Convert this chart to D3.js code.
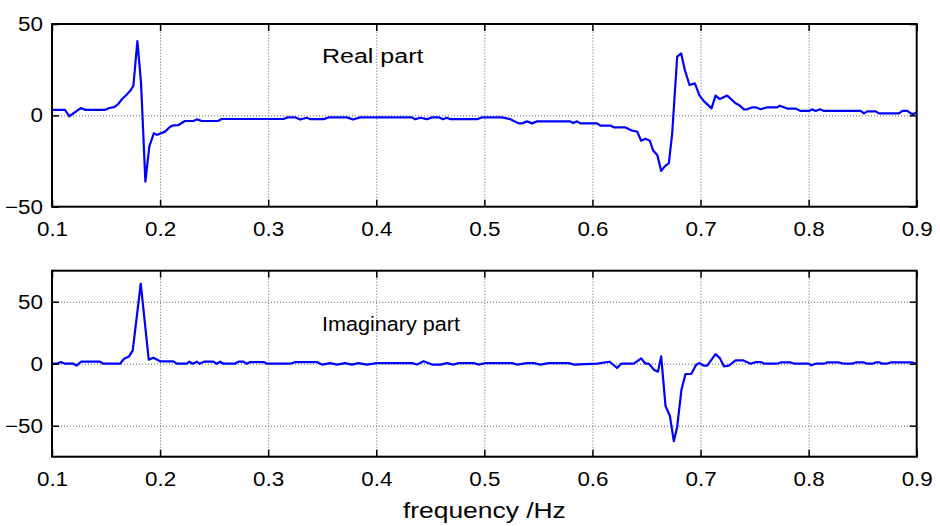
<!DOCTYPE html>
<html>
<head>
<meta charset="utf-8">
<script src="https://cdn.jsdelivr.net/npm/d3@7"></script>
<style>
  body { margin: 0; background: #fff; }
  text { font-family: "Liberation Sans", Arial, sans-serif; }
</style>
</head>
<body>
<div id="chart"></div>
<script>
// frequency (Hz) and value pairs
const realFreq = [0.100, 0.112, 0.116, 0.1266, 0.131, 0.149, 0.153, 0.1574, 0.161, 0.1646,
    0.169, 0.1722, 0.1753, 0.179, 0.1824, 0.1864, 0.190, 0.1942, 0.197, 0.2046,
    0.2093, 0.2123, 0.217, 0.223, 0.2309, 0.234, 0.2386, 0.2537, 0.257, 0.3142,
    0.3179, 0.325, 0.3296, 0.3358, 0.3389, 0.3512, 0.356, 0.3729, 0.3784, 0.3852,
    0.433, 0.436, 0.4407, 0.4469, 0.4516, 0.4577, 0.4617, 0.4654, 0.4685, 0.4932,
    0.4978, 0.5164, 0.524, 0.5318, 0.5349, 0.5395, 0.5442, 0.5488, 0.5796, 0.5821,
    0.5858, 0.5889, 0.6043, 0.6074, 0.6167, 0.6198, 0.6306, 0.6368, 0.6414, 0.6451,
    0.6491, 0.6531, 0.6562, 0.660, 0.6636, 0.6667, 0.6707, 0.6738, 0.6784, 0.6821,
    0.6855, 0.6898, 0.6948, 0.6991, 0.7031, 0.7102, 0.7139, 0.7179, 0.7247, 0.7324,
    0.7355, 0.7401, 0.7432, 0.7479, 0.751, 0.7556, 0.7617, 0.771, 0.7734, 0.7802,
    0.788, 0.7926, 0.8003, 0.8034, 0.8065, 0.8105, 0.8142, 0.8481, 0.8512, 0.8543,
    0.862, 0.8651, 0.8836, 0.8868, 0.8914, 0.8944, 0.897, 0.900];
const realVals = [3, 3, -0.5, 4, 3, 3, 4, 4.5, 6, 8.8,
    11.3, 13.3, 16.2, 40.7, 17.5, -36.3, -17.1, -9.8, -10.7, -8.9,
    -6.2, -5.5, -5.3, -3.1, -3.1, -2.2, -3.1, -3.1, -2, -2,
    -1.1, -1.1, -2.3, -1.3, -2.1, -2.1, -1.1, -1.1, -2.3, -1.1,
    -1.1, -2.1, -1.3, -2.1, -1.1, -1.1, -2.1, -1.3, -2.1, -2.1,
    -1.1, -1.1, -2.1, -4.4, -4.4, -3.3, -4.4, -3.3, -3.3, -4.2,
    -3.3, -4.4, -4.4, -5.6, -5.6, -6.6, -6.6, -8.4, -8.9, -13.9,
    -12.8, -13.9, -19.3, -21.7, -30.4, -28.1, -26.2, -9.8, 32.1, 33.9,
    24.8, 16.6, 17.5, 10.8, 7.8, 3.8, 10.8, 8.9, 10.8, 6.6,
    5.7, 3.3, 3.3, 4.4, 4.4, 3.3, 4.4, 4.4, 5.3, 3.7,
    3.7, 2.4, 2.4, 3.3, 2.4, 3.3, 2.4, 2.4, 1.1, 2.2,
    2.2, 1.1, 1.1, 2.4, 2.4, 1.1, 0.7, 1.8];

const imagFreq = [0.100, 0.104, 0.1083, 0.112, 0.1198, 0.1228, 0.1269, 0.1444, 0.1475, 0.163,
    0.1667, 0.1713, 0.1747, 0.1821, 0.1895, 0.1938, 0.200, 0.2123, 0.2154, 0.2247,
    0.2271, 0.2302, 0.234, 0.2364, 0.2407, 0.2494, 0.2525, 0.2556, 0.2586, 0.2694,
    0.2725, 0.2772, 0.2802, 0.2833, 0.296, 0.2988, 0.3204, 0.325, 0.345, 0.3497,
    0.3574, 0.3636, 0.3713, 0.3775, 0.3836, 0.3914, 0.4006, 0.433, 0.4377, 0.4438,
    0.4516, 0.4593, 0.4654, 0.4716, 0.4762, 0.4901, 0.4947, 0.5009, 0.5256, 0.5303,
    0.5395, 0.5457, 0.5519, 0.5596, 0.5781, 0.5827, 0.6043, 0.616, 0.6228, 0.6265,
    0.6383, 0.6451, 0.6491, 0.6522, 0.6568, 0.6606, 0.6636, 0.6676, 0.6716, 0.6753,
    0.6784, 0.6824, 0.6861, 0.6914, 0.696, 0.6991, 0.7031, 0.7062, 0.7139, 0.7179,
    0.7216, 0.7262, 0.7324, 0.7392, 0.7463, 0.751, 0.7556, 0.7593, 0.771, 0.7741,
    0.7833, 0.787, 0.8003, 0.8025, 0.8065, 0.8142, 0.8173, 0.8281, 0.8327, 0.8404,
    0.8435, 0.8512, 0.8543, 0.859, 0.862, 0.8657, 0.8682, 0.8722, 0.8759, 0.896,
    0.900];
const imagVals = [0, 0, 1.3, 0, 0, -1.6, 1.6, 1.6, 0, 0,
    4, 5.9, 10.7, 64.5, 3.2, 4.8, 1.9, 1.9, 0, 0,
    1.6, 0, 1.6, 0, 1.6, 1.6, 0, 1.6, 0, 0,
    1.6, 1.6, 0, 1.3, 1.3, 0, 0, 1.3, 1.3, -0.7,
    0.5, -0.7, 0.5, -0.7, 0.5, -0.7, 0.5, 0.5, -0.7, 2,
    -0.7, -0.7, 0.5, -0.7, 0.5, 0.5, -0.7, 0.5, 0.5, -0.7,
    0.5, 0.5, -0.7, 0.5, 0.5, -0.7, 0, 1.6, -3.5, 0,
    0, 4.3, 0, 0, -4.8, -6.4, 5.9, -34, -42, -62.5,
    -51, -20.8, -8.3, -8.3, -0.8, 0.5, -1.6, -1.6, 7.7, 4.5,
    -2.1, -1.6, 2.7, 2.7, 0, 1.3, 1.3, 0, 0, 1,
    1, 0, 0, -1.3, 0, 0, 1, 1, 0, 0,
    1, 1, 0, 0, 1, 1, 0, 0, 1, 1,
    0];

const xTicks = [0.1, 0.2, 0.3, 0.4, 0.5, 0.6, 0.7, 0.8, 0.9];
const realYTicks = [-50, 0, 50];
const imagYTicks = [-50, 0, 50];
const realYDomain = [-50, 50];
const imagYDomain = [-75, 75];

const totalWidth = 940, totalHeight = 526;
const left = 52, plotWidth = 864.7;

const svg = d3.select("#chart")
              .append("svg")
              .attr("width", totalWidth)
              .attr("height", totalHeight);

const xScale = d3.scaleLinear()
                 .domain([0.1, 0.9])
                 .range([0, plotWidth]);

// the original text is a little wider than Liberation Sans, stretch it
function stretch(sel, k) {
    sel.each(function() {
        const w = this.getComputedTextLength();
        d3.select(this)
          .attr("textLength", w * k)
          .attr("lengthAdjust", "spacingAndGlyphs");
    });
}

function drawPanel(top, height, freq, vals, yDomain, yTicks, label, labelY, labelStretch) {
    const g = svg.append("g")
                 .attr("transform", `translate(${left},${top})`);

    const yScale = d3.scaleLinear()
                     .domain(yDomain)
                     .range([height, 0]);

    // dotted grid
    const gridStyle = sel => {
        sel.select(".domain").remove();
        sel.selectAll("line")
           .attr("stroke", "#555")
           .attr("stroke-width", 0.9)
           .attr("stroke-dasharray", "1,2");
    };
    g.append("g")
     .attr("transform", `translate(0,${height})`)
     .call(d3.axisBottom(xScale).tickValues(xTicks.slice(1, -1)).tickSize(-height).tickFormat(""))
     .call(gridStyle);
    g.append("g")
     .call(d3.axisLeft(yScale).tickValues(yTicks.filter(v => v > yDomain[0] && v < yDomain[1]))
              .tickSize(-plotWidth).tickFormat(""))
     .call(gridStyle);

    // data line
    const line = d3.line()
                   .x(i => xScale(freq[i]))
                   .y(i => yScale(vals[i]));

    g.append("path")
     .datum(d3.range(freq.length))
     .attr("fill", "none")
     .attr("stroke", "#0000ff")
     .attr("stroke-width", 2.2)
     .attr("stroke-linejoin", "round")
     .attr("d", line);

    // inward ticks on all four sides
    const tickStyle = sel => {
        sel.select(".domain").remove();
        sel.selectAll("line").attr("stroke", "#000").attr("stroke-width", 1.5);
    };
    g.append("g")
     .attr("transform", `translate(0,${height})`)
     .call(d3.axisBottom(xScale).tickValues(xTicks).tickSize(-7).tickFormat(""))
     .call(tickStyle);
    g.append("g")
     .call(d3.axisTop(xScale).tickValues(xTicks).tickSize(-7).tickFormat(""))
     .call(tickStyle);
    g.append("g")
     .call(d3.axisLeft(yScale).tickValues(yTicks).tickSize(-7).tickFormat(""))
     .call(tickStyle);
    g.append("g")
     .attr("transform", `translate(${plotWidth},0)`)
     .call(d3.axisRight(yScale).tickValues(yTicks).tickSize(-7).tickFormat(""))
     .call(tickStyle);

    // tick labels
    const labelStyle = sel => {
        sel.select(".domain").remove();
        sel.selectAll("text")
           .attr("fill", "#000")
           .style("font-size", "20px")
           .call(stretch, 1.12);
    };
    g.append("g")
     .attr("transform", `translate(0,${height})`)
     .call(d3.axisBottom(xScale).tickValues(xTicks).tickSize(0).tickPadding(15).tickFormat(d3.format(".1f")))
     .call(labelStyle);
    g.append("g")
     .call(d3.axisLeft(yScale).tickValues(yTicks).tickSize(0).tickPadding(9))
     .call(labelStyle);

    // frame
    g.append("rect")
     .attr("x", 0)
     .attr("y", 0)
     .attr("width", plotWidth)
     .attr("height", height)
     .attr("fill", "none")
     .attr("stroke", "#000")
     .attr("stroke-width", 2);

    g.append("text")
     .attr("x", 322 - left)
     .attr("y", labelY - top)
     .style("font-size", "20px")
     .text(label)
     .call(stretch, labelStretch);
}

drawPanel(24, 182.7, realFreq, realVals, realYDomain, realYTicks, "Real part", 63, 1.25);
drawPanel(270.7, 186, imagFreq, imagVals, imagYDomain, imagYTicks, "Imaginary part", 331, 1.08);

svg.append("text")
   .attr("x", left + plotWidth / 2)
   .attr("y", 518)
   .attr("text-anchor", "middle")
   .style("font-size", "22px")
   .text("frequency /Hz")
   .call(stretch, 1.2);
</script>
</body>
</html>
